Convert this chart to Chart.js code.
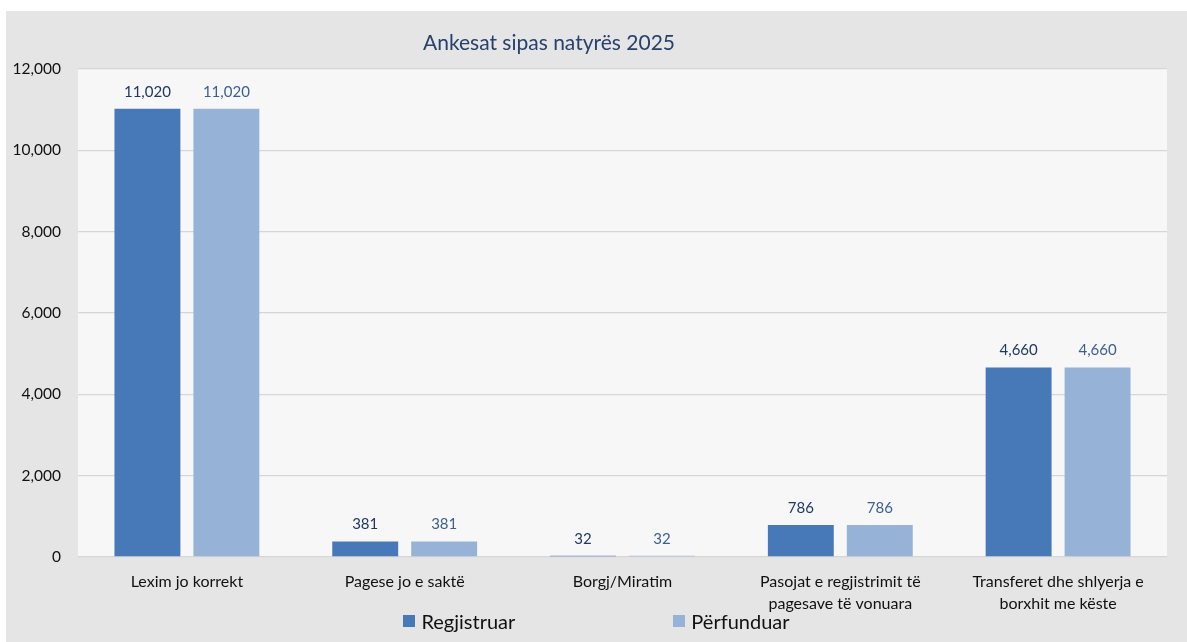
<!DOCTYPE html>
<html lang="sq">
<head>
<meta charset="utf-8">
<title>Ankesat sipas natyrës 2025</title>
<script src="https://cdn.jsdelivr.net/npm/chart.js@4.4.1/dist/chart.umd.min.js"></script>
<style>
  html, body { margin: 0; padding: 0; background: #ffffff; }
  body { width: 1187px; height: 642px; position: relative; overflow: hidden; font-family: Lato, "Open Sans", sans-serif; }
  #panel { position: absolute; left: 6px; top: 11px; width: 1181px; height: 631px; background: #e5e5e5; }
  #chartBox { position: absolute; left: 0; top: 0; width: 1181px; height: 631px; }
  #title { position: absolute; left: 543px; top: 18px; transform: translateX(-50%); white-space: nowrap;
           font-size: 21px; color: #26416c; }
  #legend { position: absolute; left: 0; width: 1181px; top: 598px; display: flex; justify-content: center; gap: 158px; }
  .item { display: flex; align-items: center; font-size: 20px; color: #111; }
  .swatch { width: 12px; height: 12px; margin-right: 6px; }
</style>
</head>
<body>
<div id="panel">
  <div id="chartBox"><canvas id="ankesat"></canvas></div>
  <div id="title">Ankesat sipas natyrës 2025</div>
  <div id="legend"></div>
</div>
<script>
const categories = [
  'Lexim jo korrekt',
  'Pagese jo e saktë',
  'Borgj/Miratim',
  ['Pasojat e regjistrimit të', 'pagesave të vonuara'],
  ['Transferet dhe shlyerja e', 'borxhit me këste']
];
const seriesNames = ['Regjistruar', 'Përfunduar'];
const regjistruar = [11020, 381, 32, 786, 4660];
const perfunduar = [11020, 381, 32, 786, 4660];
const yTicks = [0, 2000, 4000, 6000, 8000, 10000, 12000];

const barColors = ['#4779b9', '#96b3d7'];
const labelColors = ['#1f3864', '#3d6092'];

// value labels above each bar
const barLabels = {
  id: 'barLabels',
  afterDatasetsDraw(chart) {
    const ctx = chart.ctx;
    ctx.save();
    ctx.font = '15px Lato, "Open Sans", sans-serif';
    ctx.textAlign = 'center';
    ctx.textBaseline = 'middle';
    chart.data.datasets.forEach((ds, i) => {
      ctx.fillStyle = labelColors[i];
      chart.getDatasetMeta(i).data.forEach((bar, j) => {
        ctx.fillText(ds.data[j].toLocaleString('en-US'), bar.x, bar.y - 17);
      });
    });
    ctx.restore();
  }
};

// light plot area behind the bars
const plotBg = {
  id: 'plotBg',
  beforeDraw(chart) {
    const a = chart.chartArea;
    chart.ctx.save();
    chart.ctx.fillStyle = '#f7f7f7';
    chart.ctx.fillRect(a.left, a.top, a.right - a.left, a.bottom - a.top);
    chart.ctx.restore();
  }
};

new Chart(document.getElementById('ankesat'), {
  type: 'bar',
  data: {
    labels: categories,
    datasets: [
      { label: seriesNames[0], data: regjistruar, backgroundColor: barColors[0] },
      { label: seriesNames[1], data: perfunduar, backgroundColor: barColors[1] }
    ]
  },
  options: {
    responsive: true,
    maintainAspectRatio: false,
    animation: false,
    categoryPercentage: 0.725,
    barPercentage: 0.835,
    layout: { padding: { top: 58, right: 20, bottom: 0, left: 0 } },
    plugins: {
      legend: { display: false },
      title: { display: false },
      tooltip: { enabled: false }
    },
    scales: {
      x: {
        grid: { display: false },
        border: { display: false },
        ticks: {
          color: '#111',
          padding: 6,
          maxRotation: 0,
          autoSkip: false,
          font: { family: 'Lato', size: 16, lineHeight: 1.375 }
        },
        afterFit(s) { s.height = 85; }
      },
      y: {
        min: 0,
        max: 12000,
        afterBuildTicks(s) { s.ticks = yTicks.map(v => ({ value: v })); },
        grid: { color: '#d6d6d6', lineWidth: 1.3, drawTicks: false },
        border: { display: false },
        ticks: {
          color: '#111',
          padding: 17,
          font: { family: 'Lato', size: 15.5 },
          callback: v => v.toLocaleString('en-US')
        },
        afterFit(s) { s.width = 72; }
      }
    }
  },
  plugins: [plotBg, barLabels]
});

const legend = document.getElementById('legend');
seriesNames.forEach((name, i) => {
  const item = document.createElement('div');
  item.className = 'item';
  item.innerHTML = `<span class="swatch" style="background:${barColors[i]}"></span>${name}`;
  legend.appendChild(item);
});
</script>
</body>
</html>
